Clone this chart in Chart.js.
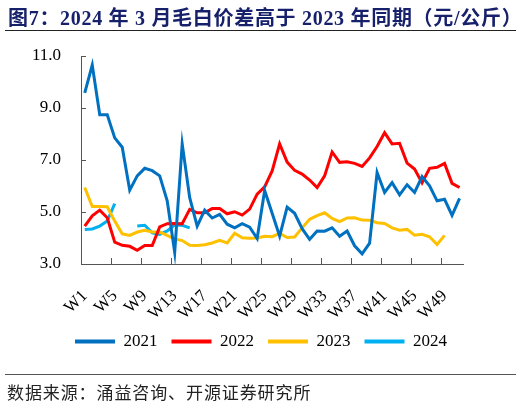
<!DOCTYPE html>
<html>
<head>
<meta charset="utf-8">
<script src="https://cdn.jsdelivr.net/npm/chart.js@4.4.1/dist/chart.umd.min.js"></script>
<style>
  html, body { margin: 0; padding: 0; background: #fff; }
  #wrap { position: relative; width: 522px; height: 404px; overflow: hidden; }
  #chart { position: absolute; left: 0; top: 0; }
  .title { position: absolute; left: 8px; top: 2px; white-space: nowrap; letter-spacing: 0.7px;
    font: bold 20px "Liberation Serif", "Noto Sans CJK SC"; color: #16206b; }
  .rule { position: absolute; left: 5px; width: 511px; height: 1px; background: #222; }
  .note { position: absolute; left: 7px; top: 379px; white-space: nowrap;
    font: 17px "Noto Sans CJK SC"; letter-spacing: 0.9px; color: #222; }
</style>
</head>
<body>
<div id="wrap">
  <canvas id="chart" width="522" height="404"></canvas>
  <div class="title">图7：2024 年 3 月毛白价差高于 2023 年同期（元/公斤）</div>
  <div class="rule" style="top:30px"></div>
  <div class="rule" style="top:374px;background:#555"></div>
  <div class="note">数据来源：涌益咨询、开源证券研究所</div>
</div>
<script>
// week categories
var weeks = ["W1","W2","W3","W4","W5","W6","W7","W8","W9","W10","W11","W12","W13",
  "W14","W15","W16","W17","W18","W19","W20","W21","W22","W23","W24","W25","W26",
  "W27","W28","W29","W30","W31","W32","W33","W34","W35","W36","W37","W38","W39",
  "W40","W41","W42","W43","W44","W45","W46","W47","W48","W49","W50","W51"];

// price gap, yuan/kg
var y2021 = [9.58, 10.65, 8.74, 8.74, 7.85, 7.49, 5.84, 6.39, 6.68, 6.59, 6.39, 5.43, 3.45,
  7.62, 5.55, 4.46, 5.07, 4.77, 4.91, 4.53, 4.39, 4.55, 4.42, 3.98, 5.83, 4.95,
  4.07, 5.19, 4.95, 4.36, 3.95, 4.27, 4.26, 4.39, 4.07, 4.27, 3.70, 3.39, 3.80,
  6.52, 5.75, 6.13, 5.66, 6.05, 5.75, 6.36, 6.01, 5.43, 5.49, 4.87, 5.52];
var y2022 = [4.46, 4.85, 5.07, 4.78, 3.84, 3.72, 3.68, 3.53, 3.71, 3.71, 4.43, 4.55, 4.56,
  4.55, 5.10, 4.97, 4.97, 5.13, 5.13, 4.93, 5.01, 4.88, 5.11, 5.69, 5.97, 6.58,
  7.62, 6.92, 6.60, 6.46, 6.23, 5.94, 6.39, 7.31, 6.91, 6.93, 6.87, 6.75, 7.08,
  7.52, 8.05, 7.62, 7.64, 6.88, 6.65, 6.12, 6.68, 6.72, 6.87, 6.10, 5.94];
var y2023 = [5.94, 5.21, 5.21, 5.20, 4.65, 4.16, 4.10, 4.23, 4.30, 4.23, 4.23, 4.10, 3.96,
  3.90, 3.72, 3.71, 3.74, 3.81, 3.91, 3.81, 4.18, 4.01, 3.99, 4.00, 4.07, 4.05,
  4.18, 4.02, 4.04, 4.39, 4.72, 4.86, 4.97, 4.75, 4.63, 4.77, 4.78, 4.69, 4.68,
  4.59, 4.56, 4.39, 4.30, 4.33, 4.11, 4.14, 4.05, 3.75, 4.10];
var y2024 = [4.33, 4.35, 4.46, 4.65, 5.32, null, null, 4.46, 4.49, 4.20, 4.14, 4.27, 4.50,
  4.49, 4.39];

var yTicks = [3, 5, 7, 9, 11];
var axisColor = "#555";
var serif = "'Liberation Serif', 'Times New Roman', serif";

// short tick marks pointing into the plot, like the original
var insideTicks = {
  id: "insideTicks",
  beforeDatasetsDraw: function (chart) {
    var ctx = chart.ctx, x = chart.scales.x, y = chart.scales.y, a = chart.chartArea;
    ctx.save();
    ctx.strokeStyle = axisColor;
    ctx.lineWidth = 1;
    ctx.beginPath();
    yTicks.forEach(function (v) {
      var py = Math.round(y.getPixelForValue(v)) + 0.5;
      ctx.moveTo(a.left, py);
      ctx.lineTo(a.left + 5, py);
    });
    for (var i = 4; i < weeks.length; i += 4) {
      var px = Math.round(x.getPixelForValue(i - 0.5)) + 0.5;
      ctx.moveTo(px, a.bottom);
      ctx.lineTo(px, a.bottom - 6);
    }
    ctx.stroke();
    ctx.restore();
  }
};

function series(label, data, color) {
  return {
    label: label,
    data: data,
    borderColor: color,
    backgroundColor: color,
    borderWidth: 3,
    pointRadius: 0,
    tension: 0,
    spanGaps: false
  };
}

var ctx = document.getElementById("chart").getContext("2d");
new Chart(ctx, {
  type: "line",
  data: {
    labels: weeks,
    datasets: [
      series("2021", y2021, "#0070C0"),
      series("2022", y2022, "#FF0000"),
      series("2023", y2023, "#FFC000"),
      series("2024", y2024, "#00B0F0")
    ]
  },
  options: {
    responsive: false,
    animation: false,
    layout: { padding: { top: 56, left: 0, right: 0, bottom: 44 } },
    scales: {
      x: {
        type: "category",
        offset: true,
        grid: { display: false, offset: true },
        border: { color: axisColor, width: 1 },
        ticks: {
          autoSkip: false,
          maxRotation: 45,
          minRotation: 45,
          padding: 14,
          color: "#000",
          font: { family: serif, size: 17 },
          callback: function (v, i) { return i % 4 === 0 ? weeks[i] : ""; }
        },
        afterFit: function (s) { s.height = 55; }
      },
      y: {
        min: 3,
        max: 11,
        grid: { display: false, drawTicks: false },
        border: { color: axisColor, width: 1 },
        ticks: {
          stepSize: 2,
          padding: 20,
          color: "#000",
          font: { family: serif, size: 17 },
          callback: function (v) { return v.toFixed(1); }
        },
        afterFit: function (s) { s.width = 81; }
      },
      yR: {
        position: "right",
        grid: { display: false },
        border: { display: false },
        ticks: { display: false },
        afterFit: function (s) { s.width = 58.7; }
      }
    },
    plugins: {
      tooltip: { enabled: false },
      legend: {
        position: "bottom",
        labels: {
          boxWidth: 40,
          boxHeight: 4,
          padding: 14,
          color: "#000",
          font: { family: serif, size: 17 },
          generateLabels: function (chart) {
            return Chart.defaults.plugins.legend.labels.generateLabels(chart).map(function (l) {
              l.lineWidth = 0;
              return l;
            });
          }
        }
      }
    }
  },
  plugins: [insideTicks]
});
</script>
</body>
</html>
